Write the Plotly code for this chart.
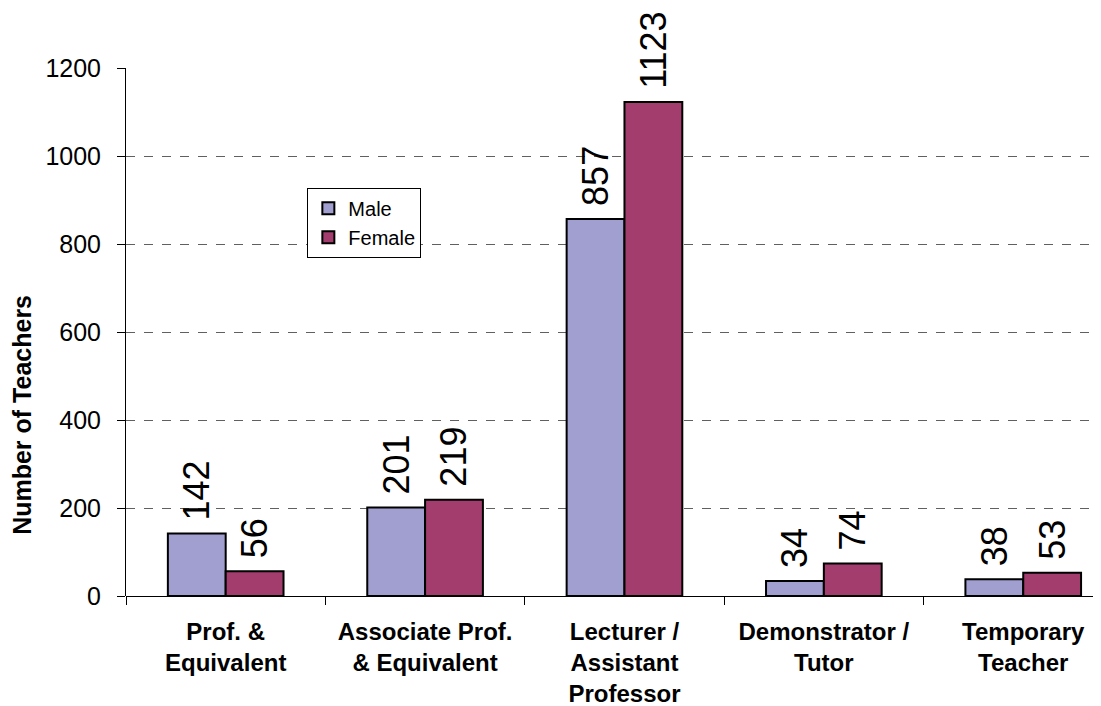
import plotly.graph_objects as go

categories = ["Prof. &<br>Equivalent", "Associate Prof.<br>& Equivalent",
              "Lecturer /<br>Assistant<br>Professor", "Demonstrator /<br>Tutor",
              "Temporary<br>Teacher"]
male = [142, 201, 857, 34, 38]
female = [56, 219, 1123, 74, 53]
y_ticks = [0, 200, 400, 600, 800, 1000, 1200]

FONT = "Arial, Liberation Sans, sans-serif"
xpos = list(range(len(categories)))
# leading non-breaking space: gap between bar top and rotated label
LABEL = "\u00a0%{y}"

fig = go.Figure()
fig.add_trace(go.Bar(
    x=xpos, y=male, name="Male", marker=dict(color="#A09FCF", line=dict(color="black", width=2)),
    texttemplate=LABEL, textposition="outside", textangle=-90,
    textfont=dict(size=36, color="black", family=FONT), cliponaxis=False, constraintext="none"))
fig.add_trace(go.Bar(
    x=xpos, y=female, name="Female", marker=dict(color="#A33D6E", line=dict(color="black", width=2)),
    texttemplate=LABEL, textposition="outside", textangle=-90,
    textfont=dict(size=36, color="black", family=FONT), cliponaxis=False, constraintext="none"))

# page body has an 8px margin, so the figure is drawn 8px in from the window corner
fig.update_layout(
    width=1093, height=698,
    margin=dict(l=118, r=0, t=60, b=110),
    paper_bgcolor="white", plot_bgcolor="white",
    font=dict(family=FONT, color="black"),
    barmode="group", bargap=0.42, bargroupgap=0,
    showlegend=True,
    legend=dict(x=0.186, y=0.773, xanchor="left", yanchor="top",
                bgcolor="white", bordercolor="black", borderwidth=1,
                itemwidth=30,
                font=dict(size=20, family=FONT, color="black")),
    xaxis=dict(range=[-0.5, 4.39], tickmode="array", tickvals=xpos, ticktext=categories,
               ticks="", showgrid=False, zeroline=False, showline=False, automargin=False,
               tickfont=dict(size=24, family=FONT, color="black", weight="bold"),
               ticklabelstandoff=19,
               minor=dict(ticks="outside", tickmode="linear", tick0=-0.5, dtick=1,
                          ticklen=8, tickwidth=1, tickcolor="black", showgrid=False)),
    yaxis=dict(range=[0, 1200], tickmode="array", tickvals=y_ticks, automargin=False,
               ticks="outside", ticklen=8, tickcolor="black", tickwidth=1,
               showline=True, linecolor="black", linewidth=1,
               showgrid=True, gridcolor="#606060", griddash="dash", gridwidth=1,
               zeroline=True, zerolinecolor="black", zerolinewidth=1,
               tickfont=dict(size=25, family=FONT, color="black"),
               ticklabelstandoff=11),
)
fig.add_annotation(text="<b>Number of Teachers</b>", xref="paper", yref="paper",
                   x=-0.1067, y=0.343, xanchor="center", yanchor="middle",
                   textangle=-90, showarrow=False,
                   font=dict(size=25, family=FONT, color="black"))

fig.write_html("out.html")
